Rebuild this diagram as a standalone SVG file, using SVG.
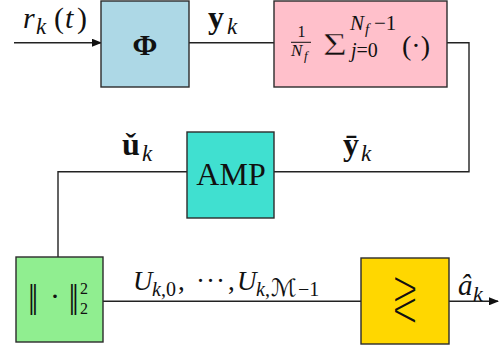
<svg xmlns="http://www.w3.org/2000/svg" width="499" height="350" viewBox="0 0 499 350">
<style>
.box{stroke:#2b2b2b;stroke-width:1.4}
.ln{fill:none;stroke:#222;stroke-width:1.4}
.m{font-family:"Liberation Serif","DejaVu Serif",serif;fill:#111}
.i{font-style:italic}
.b{font-weight:bold}
.n{font-weight:normal}
</style>
<defs>
<marker id="ah" markerWidth="10" markerHeight="8" refX="9" refY="4" orient="auto" markerUnits="userSpaceOnUse">
<path d="M0,0 L10,4 L0,8 Z" fill="#111"/>
</marker>
</defs>
<rect width="499" height="350" fill="#fff"/>
<g id="connectors">
<line class="ln" x1="14" y1="42.7" x2="101" y2="42.7" marker-end="url(#ah)"/>
<line class="ln" x1="189" y1="42.7" x2="274" y2="42.7"/>
<polyline class="ln" points="447,42.7 469,42.7 469,171.7 274,171.7"/>
<polyline class="ln" points="187,171.7 58,171.7 58,257"/>
<line class="ln" x1="103" y1="301.3" x2="361" y2="301.3"/>
<line class="ln" x1="449" y1="301.3" x2="498" y2="301.3" marker-end="url(#ah)"/>
</g>
<g id="labels">
<text class="m" font-size="30"><tspan class="i" x="23" y="28">r</tspan><tspan class="i" font-size="23" x="36" y="34">k</tspan><tspan x="54" y="28">(</tspan><tspan class="i" x="65" y="28">t</tspan><tspan x="77" y="28">)</tspan></text>
<text class="m b" font-size="32"><tspan x="208" y="28">y</tspan><tspan class="i n" font-size="23" x="227" y="34">k</tspan></text>
<text class="m b" font-size="32"><tspan x="122" y="155">ǔ</tspan><tspan class="i n" font-size="23" x="142" y="161">k</tspan></text>
<text class="m b" font-size="32"><tspan x="343" y="155">ȳ</tspan><tspan class="i n" font-size="23" x="361" y="161">k</tspan></text>
<text class="m" font-size="27"><tspan class="i" x="133" y="290">U</tspan><tspan class="i" font-size="20" x="152" y="296">k</tspan><tspan font-size="20" x="161" y="296">,0</tspan><tspan x="178" y="290">,</tspan><tspan x="196" y="290">·</tspan><tspan x="206" y="290">·</tspan><tspan x="216" y="290">·</tspan><tspan x="228" y="290">,</tspan><tspan class="i" x="237" y="290">U</tspan><tspan class="i" font-size="20" x="256" y="296">k</tspan><tspan font-size="20" x="265" y="296">,</tspan><tspan font-size="24" font-family="DejaVu Sans,sans-serif" x="271" y="296">ℳ</tspan><tspan font-size="20" x="298" y="296">−1</tspan></text>
<text class="m" font-size="29"><tspan class="i" x="458" y="295">â</tspan><tspan class="i" font-size="22" x="473" y="301">k</tspan></text>
</g>
<g id="phi">
<rect class="box" x="101" y="1" width="88" height="86" fill="#add8e6"/>
<text class="m b" x="145" y="55" font-size="30" text-anchor="middle">Φ</text>
</g>
<g id="avg">
<rect class="box" x="274" y="1" width="173" height="86" fill="#ffc0cb"/>
<text class="m" x="301.5" y="37" font-size="16" text-anchor="middle">1</text>
<line x1="291" y1="42.3" x2="311" y2="42.3" stroke="#111" stroke-width="1"/>
<text class="m" font-size="17"><tspan class="i" x="291" y="56">N</tspan><tspan class="i" font-size="13" x="304" y="60">f</tspan></text>
<text class="m" font-size="38" stroke="#ffc0cb" stroke-width="0.6" transform="translate(323,55) scale(1.08,0.85)">Σ</text>
<text class="m" font-size="21"><tspan class="i" x="350" y="30">N</tspan><tspan class="i" font-size="15" x="365" y="34">f</tspan><tspan x="374" y="30">−1</tspan></text>
<text class="m" font-size="20"><tspan class="i" x="351" y="57">j</tspan><tspan>=0</tspan></text>
<text class="m" font-size="28" x="402" y="55">(·)</text>
</g>
<g id="amp">
<rect class="box" x="187" y="132" width="87" height="86" fill="#40e0d0"/>
<text class="m" x="231" y="185" font-size="32" text-anchor="middle">AMP</text>
</g>
<g id="norm">
<rect class="box" x="16" y="257" width="87" height="85" fill="#90ee90"/>
<text class="m" font-size="34"><tspan x="28" y="308" letter-spacing="-3.3">||</tspan><tspan x="50" y="306" font-size="30">·</tspan><tspan x="68.5" y="308" letter-spacing="-3.3">||</tspan><tspan x="80" y="294" font-size="16">2</tspan><tspan x="80" y="314" font-size="16">2</tspan></text>
</g>
<g id="decision">
<rect class="box" x="361" y="258" width="88" height="86" fill="#ffd700"/>
<text font-size="58" text-anchor="middle" font-family="DejaVu Sans,sans-serif" fill="#111" stroke="#ffd700" stroke-width="2.6" transform="translate(405,319) scale(0.6,1.1)">≷</text>
</g>
</svg>
